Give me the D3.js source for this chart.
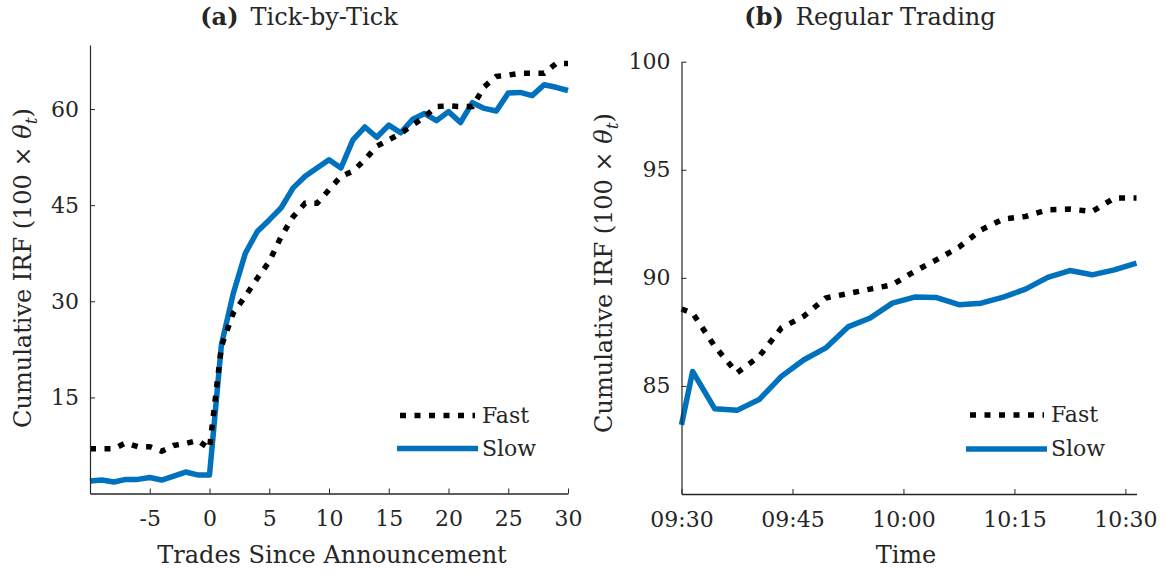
<!DOCTYPE html>
<html>
<head>
<meta charset="utf-8">
<script src="https://cdn.jsdelivr.net/npm/d3@7"></script>
<style>
  html, body { margin: 0; padding: 0; background: #fff; }
  svg { display: block; }
</style>
</head>
<body>
<svg id="chart" width="1167" height="575"></svg>
<script>
// ---- Panel (a): cumulative IRF by trades since announcement ----
const trades = d3.range(-10, 31);
const tickFast = [7.0, 7.0, 7.0, 7.9, 7.3, 7.3, 6.6, 7.5, 7.8, 8.3, 7.0,
  23.0, 28.2, 30.8, 33.6, 36.2, 40.1, 43.2, 45.3, 45.3, 47.4,
  49.5, 50.3, 52.1, 54.2, 55.2, 56.2, 57.5, 58.8, 60.4, 60.5,
  60.4, 60.4, 63.5, 65.1, 65.3, 65.6, 65.6, 65.6, 67.1, 67.1];
const tickSlow = [1.95, 2.1, 1.8, 2.2, 2.2, 2.5, 2.1, 2.7, 3.35, 2.9, 2.9,
  23.25, 31.3, 37.5, 40.9, 42.7, 44.6, 47.7, 49.5, 50.8, 52.1,
  50.8, 55.2, 57.2, 55.6, 57.5, 56.3, 58.4, 59.3, 58.2, 59.6,
  57.9, 61.0, 60.1, 59.7, 62.5, 62.6, 62.1, 63.8, 63.4, 62.9];
const tradeTicks = [-5, 0, 5, 10, 15, 20, 25, 30];
const irfTicksA = [15, 30, 45, 60];

// ---- Panel (b): cumulative IRF in clock time, minutes after 09:30 ----
const minutesAfterOpen = [0, 1.5, 4.5, 7.5, 10.5, 13.5, 16.5, 19.5, 22.5, 25.5, 28.5,
  31.5, 34.5, 37.5, 40.5, 43.5, 46.5, 49.5, 52.5, 55.5, 58.5, 61.5];
const regFast = [88.56, 88.37, 86.83, 85.6, 86.37, 87.68, 88.22, 89.07, 89.27, 89.48, 89.68,
  90.30, 90.84, 91.42, 92.22, 92.72, 92.84, 93.15, 93.18, 93.07, 93.69, 93.69];
const regSlow = [83.2, 85.67, 83.94, 83.87, 84.37, 85.44, 86.2, 86.76, 87.73, 88.14, 88.83,
  89.11, 89.09, 88.76, 88.83, 89.11, 89.48, 90.02, 90.34, 90.14, 90.37, 90.68];
const timeTicks = [0, 15, 30, 45, 60];
const timeTickLabels = ["09:30", "09:45", "10:00", "10:15", "10:30"];
const irfTicksB = [85, 90, 95, 100];

const seriesNames = ["Fast", "Slow"];
const blue = "#0072BD";
const axisColor = "#262626";
const serif = "DejaVu Serif";

const svg = d3.select("#chart");

function drawPanel(cfg) {
  const g = svg.append("g").attr("font-family", serif).attr("fill", axisColor);
  const x = cfg.x, y = cfg.y;
  const [x0] = x.range();
  const [yb] = y.range();

  // series
  const line = (ys) => d3.line().x((d, i) => x(cfg.xs[i])).y(d => y(d))(ys);
  g.append("path").attr("d", line(cfg.slow))
    .attr("fill", "none").attr("stroke", blue).attr("stroke-width", 5.5)
    .attr("stroke-linejoin", "round");
  g.append("path").attr("d", line(cfg.fast))
    .attr("fill", "none").attr("stroke", "#000").attr("stroke-width", 5.5)
    .attr("stroke-dasharray", "6 8.5").attr("stroke-linejoin", "miter");

  // x axis (ticks point inward)
  const xa = g.append("g").attr("transform", `translate(0,${yb})`)
    .call(d3.axisBottom(x).tickValues(cfg.xTicks).tickSizeInner(-5).tickSizeOuter(0)
      .tickPadding(17).tickFormat(cfg.xFmt));
  xa.attr("font-family", serif).attr("font-size", 22);
  xa.select(".domain").attr("stroke", axisColor).attr("stroke-width", 1.6);
  xa.selectAll(".tick line").attr("stroke", axisColor);
  xa.selectAll("text").attr("fill", axisColor);

  // y axis
  const ya = g.append("g").attr("transform", `translate(${x0},0)`)
    .call(d3.axisLeft(y).tickValues(cfg.yTicks).tickSizeInner(-5).tickSizeOuter(0)
      .tickPadding(11));
  ya.attr("font-family", serif).attr("font-size", 22);
  ya.select(".domain").attr("stroke", axisColor).attr("stroke-width", 1.2);
  ya.selectAll(".tick line").attr("stroke", axisColor);
  ya.selectAll("text").attr("fill", axisColor);

  // axis titles
  g.append("text").attr("x", cfg.xTitleX).attr("y", 563).attr("text-anchor", "middle")
    .attr("font-size", 24).text(cfg.xTitle);

  const yl = g.append("text")
    .attr("transform", `translate(${cfg.yTitleX},${cfg.yTitleY}) rotate(-90)`)
    .attr("text-anchor", "middle").attr("font-size", 24);
  yl.append("tspan").text("Cumulative IRF (100 \u00D7 ");
  yl.append("tspan").attr("font-style", "italic").text("\u03B8");
  yl.append("tspan").attr("dy", 6).attr("font-size", 17).attr("font-style", "italic").text("t");
  yl.append("tspan").attr("dy", -6).text(")");

  // panel title
  const t = g.append("text").attr("x", cfg.titleX).attr("y", 25).attr("text-anchor", "middle")
    .attr("font-size", 24);
  t.append("tspan").attr("font-weight", "bold").text(cfg.tag);
  t.append("tspan").text("\u2002" + cfg.title);

  // legend
  const lg = g.append("g");
  cfg.legend.forEach((it, i) => {
    lg.append("line").attr("x1", it.x1).attr("x2", it.x2).attr("y1", it.y).attr("y2", it.y)
      .attr("stroke", i === 0 ? "#000" : blue).attr("stroke-width", 5.5)
      .attr("stroke-dasharray", i === 0 ? "6 8.5" : null);
    lg.append("text").attr("x", it.tx).attr("y", it.y + 7).attr("font-size", 22)
      .text(seriesNames[i]);
  });
}

drawPanel({
  xs: trades, fast: tickFast, slow: tickSlow,
  x: d3.scaleLinear().domain([-10, 30]).range([90, 568]),
  y: d3.scaleLinear().domain([0, 70]).range([493.5, 45]),
  xTicks: tradeTicks, yTicks: irfTicksA, xFmt: d => String(d),
  xTitle: "Trades Since Announcement", xTitleX: 332,
  yTitleX: 31, yTitleY: 268,
  tag: "(a)", title: "Tick-by-Tick", titleX: 299,
  legend: [
    { x1: 400, x2: 475, y: 415.5, tx: 482 },
    { x1: 397, x2: 478, y: 448.5, tx: 482 }
  ]
});

drawPanel({
  xs: minutesAfterOpen, fast: regFast, slow: regSlow,
  x: d3.scaleLinear().domain([0, 61.5]).range([681.5, 1136.5]),
  y: d3.scaleLinear().domain([80, 100]).range([494, 61.7]),
  xTicks: timeTicks, yTicks: irfTicksB,
  xFmt: d => timeTickLabels[timeTicks.indexOf(d)],
  xTitle: "Time", xTitleX: 906,
  yTitleX: 612, yTitleY: 273,
  tag: "(b)", title: "Regular Trading", titleX: 870,
  legend: [
    { x1: 970, x2: 1044, y: 415, tx: 1051 },
    { x1: 966, x2: 1047, y: 449, tx: 1051 }
  ]
});
</script>
</body>
</html>
